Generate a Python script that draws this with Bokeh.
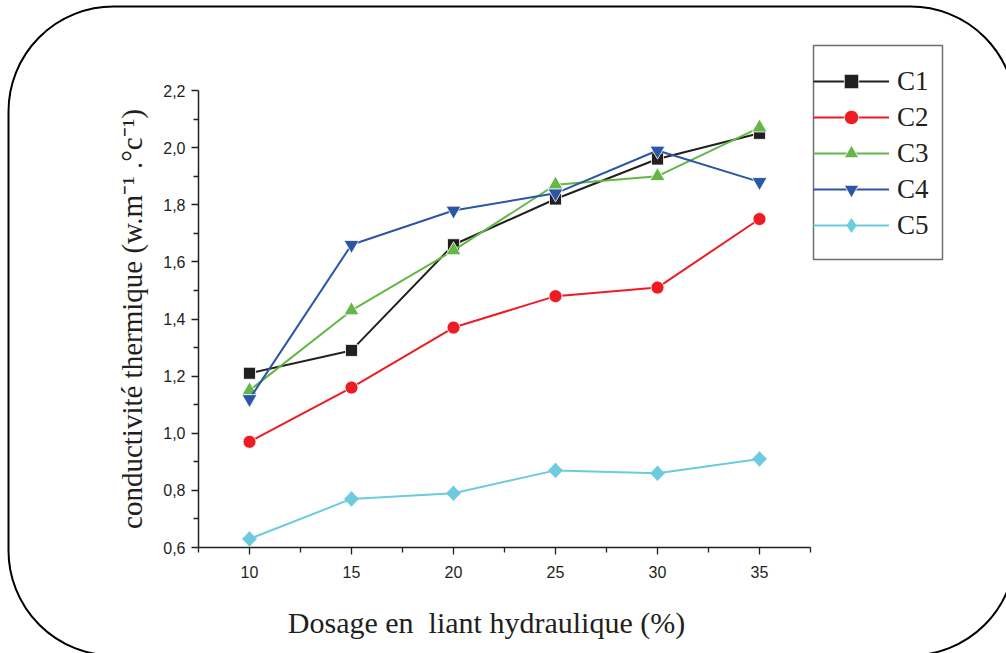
import math
from bokeh.plotting import figure
from bokeh.models import (FixedTicker, Range1d, Legend, LegendItem, BoxAnnotation,
                          LinearAxis, Label)
from bokeh.embed import file_html
from bokeh.resources import INLINE

# ---- data ----
dosage = [10, 15, 20, 25, 30, 35]
C1 = [1.21, 1.29, 1.66, 1.82, 1.96, 2.05]
C2 = [0.97, 1.16, 1.37, 1.48, 1.51, 1.75]
C3 = [1.15, 1.43, 1.64, 1.87, 1.90, 2.07]
C4 = [1.12, 1.66, 1.78, 1.84, 1.99, 1.88]
C5 = [0.63, 0.77, 0.79, 0.87, 0.86, 0.91]
series_names = ["C1", "C2", "C3", "C4", "C5"]

x_ticks = [10, 15, 20, 25, 30, 35]
x_minor = [7.5, 12.5, 17.5, 22.5, 27.5, 32.5, 37.5]
y_ticks = [0.6, 0.8, 1.0, 1.2, 1.4, 1.6, 1.8, 2.0, 2.2]
y_tick_labels = ["0,6", "0,8", "1,0", "1,2", "1,4", "1,6", "1,8", "2,0", "2,2"]
y_minor = [0.7, 0.9, 1.1, 1.3, 1.5, 1.7, 1.9, 2.1]

x_label = "Dosage en \u00a0liant hydraulique (%)"
y_label = "conductivité thermique (w.m\u207b\u00b9 .\u00b0c\u207b\u00b9)"

# ---- styles / layout ----
colors = ["#231f20", "#ed1c24", "#62b746", "#2b55a5", "#6ccbdc"]
markers = ["square", "circle", "triangle", "inverted_triangle", "square"]
msizes = [12, 13, 15, 15, 10]
angles = [0, 0, 0, 0, math.pi / 4]
INK = "#231f20"

W, H = 1006, 653
# axis box (pixels in the canvas)
AX_L, AX_R, AX_T, AX_B = 198, 810, 90, 547
X0, X1 = 7.5, 37.5
Y0, Y1 = 0.6, 2.2
sx = (AX_R - AX_L) / (X1 - X0)
sy = (AX_B - AX_T) / (Y1 - Y0)
x_range = Range1d(X0 - AX_L / sx, X0 + (W - AX_L) / sx)
y_range = Range1d(Y0 - (H - AX_B) / sy, Y1 + AX_T / sy)

p = figure(width=W, height=H, output_backend="svg", toolbar_location=None,
           x_range=x_range, y_range=y_range, min_border=0,
           x_axis_location=None, y_axis_location=None)
p.outline_line_color = None
p.xgrid.visible = False
p.ygrid.visible = False
p.background_fill_color = "white"
p.border_fill_color = "white"

xaxis = LinearAxis(fixed_location=Y0, bounds=(X0, X1))
yaxis = LinearAxis(fixed_location=X0, bounds=(Y0, Y1))
p.add_layout(xaxis, "below")
p.add_layout(yaxis, "left")

for ax in (xaxis, yaxis):
    ax.axis_line_color = INK
    ax.axis_line_width = 1.5
    ax.major_tick_line_color = INK
    ax.minor_tick_line_color = INK
    ax.major_tick_line_width = 1.3
    ax.minor_tick_line_width = 1.3
    ax.major_tick_out = 7
    ax.major_tick_in = 0
    ax.minor_tick_out = 5
    ax.minor_tick_in = 0
    ax.major_label_text_font = "Liberation Sans"
    ax.major_label_text_font_size = "16px"
    ax.major_label_text_color = INK
    ax.axis_label_text_font = "Liberation Serif"
    ax.axis_label_text_font_size = "29px"
    ax.axis_label_text_font_style = "normal"
    ax.axis_label_text_color = INK

xaxis.ticker = FixedTicker(ticks=x_ticks, minor_ticks=x_minor)
yaxis.ticker = FixedTicker(ticks=y_ticks, minor_ticks=y_minor)
yaxis.major_label_overrides = {t: l for t, l in zip(y_ticks, y_tick_labels)}
yaxis.axis_label = y_label
yaxis.axis_label_standoff = 12
xaxis.major_label_standoff = 11
yaxis.major_label_standoff = 6

xlab = Label(x=486, y=622, x_units="canvas", y_units="canvas", text=x_label,
             text_align="center", text_baseline="alphabetic",
             text_font="Liberation Serif", text_font_size="30px", text_color=INK)
p.add_layout(xlab)

items = []
for name, ys, c, m, s, a in zip(series_names, [C1, C2, C3, C4, C5], colors, markers, msizes, angles):
    r1 = p.line(dosage, ys, line_color=c, line_width=2)
    rs = [r1]
    if a != 0:
        # diamond used as the legend glyph (legend glyphs are not rotated);
        # it lies hidden under the rotated squares drawn on top
        r3 = p.scatter(dosage, ys, marker="diamond", size=15, fill_color=c,
                       line_color=c, line_width=0.5)
        rs.append(r3)
    r2 = p.scatter(dosage, ys, marker=m, size=s, angle=a, fill_color=c,
                   line_color="white" if a == 0 else c, line_width=0.8)
    if a == 0:
        rs.append(r2)
    items.append(LegendItem(label=name, renderers=rs))

legend = Legend(items=items, location=(813, H - 243),
                padding=0, margin=0, spacing=0,
                glyph_width=76, glyph_height=36, label_height=36,
                label_standoff=8,
                label_text_font="Liberation Serif", label_text_font_size="27px",
                label_text_color=INK,
                background_fill_alpha=0, border_line_alpha=0)
p.add_layout(legend, "center")

legend_box = BoxAnnotation(left=813, right=942, top=45, bottom=259,
                           left_units="canvas", right_units="canvas",
                           top_units="canvas", bottom_units="canvas",
                           fill_alpha=0, line_color="#6d6e71", line_alpha=1,
                           line_width=1.5, level="overlay")
p.add_layout(legend_box)

frame_box = BoxAnnotation(left=8, right=1015, top=6, bottom=655,
                          left_units="canvas", right_units="canvas",
                          top_units="canvas", bottom_units="canvas",
                          fill_alpha=0, line_color="black", line_alpha=1, line_width=2,
                          border_radius=105, level="overlay")
p.add_layout(frame_box)

open("out.html", "w").write(file_html(p, INLINE))
